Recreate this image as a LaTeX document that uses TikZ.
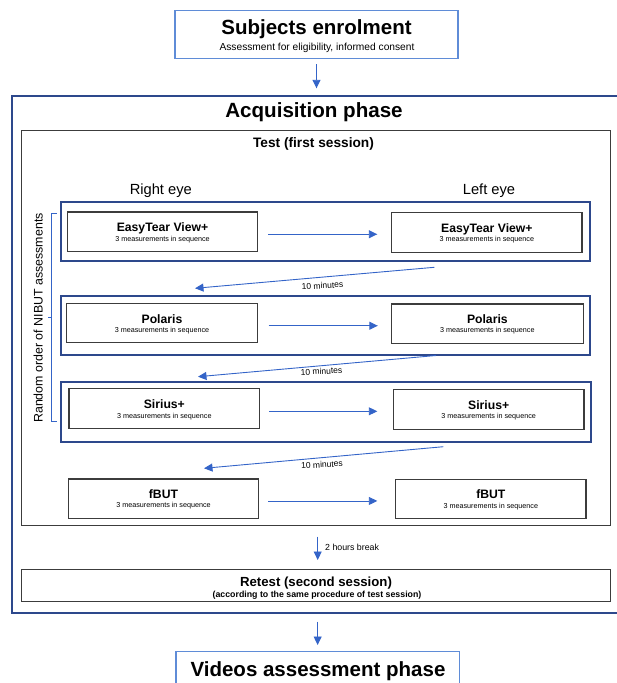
\documentclass[tikz,border=0pt]{standalone}
\usepackage{fontspec}
\setmainfont{Liberation Sans}
\usetikzlibrary{arrows.meta,calc}
\definecolor{lblue}{RGB}{95,140,215}
\definecolor{dblue}{RGB}{45,72,140}
\definecolor{ablue}{RGB}{52,100,200}
\definecolor{bgray}{RGB}{60,60,60}
\newcommand\fs[1]{\fontsize{#1}{#1}\selectfont}
\newcommand\rbox[6]{\node[#2, minimum width={(#5)-(#3)}, minimum height={(#6)-(#4)}] (#1) at ({((#3)+(#5))/2},{((#4)+(#6))/2}) {};}
\newcommand\meas[2]{%
  \node[txt,font=\bfseries\fs{12.2}] (#1t) at (#1.center) {#2};
  \node[txt,font=\fs{7.2}] (#1s) at ([yshift=-9.3pt]#1.center) {3 measurements in sequence};}
\tikzset{
  box/.style={draw, inner sep=0pt, outer sep=0pt},
  lbox/.style={box, draw=lblue, line width=1.4pt},
  obox/.style={box, draw=dblue, line width=2.2pt},
  grp/.style={box, draw=dblue, line width=2pt},
  ibox/.style={box, draw=bgray, line width=1.3pt},
  tbox/.style={box, draw=bgray, line width=1.2pt},
  arr/.style={draw=ablue, line width=0.9pt, -{Triangle[length=8.5pt,width=8pt]}},
  brk/.style={draw=ablue, line width=0.8pt},
  txt/.style={inner sep=0pt, outer sep=0pt, anchor=base},
}
\begin{document}
\begin{tikzpicture}[x=1pt,y=-1pt]
\useasboundingbox (0,0) rectangle (617,683);

% top box
\rbox{enrol}{lbox}{175}{10.7}{458}{58.7}
\node[txt,font=\bfseries\fs{20.5}] (enrolt) at (316.5,34.3) {Subjects enrolment};
\node[txt,font=\fs{10.2}] (enrols) at (317,50) {Assessment for eligibility, informed consent};

% acquisition phase
\rbox{acq}{obox}{11.7}{95.7}{625}{613.3}
\node[txt,font=\bfseries\fs{20.6}] (acqt) at (314,117.5) {Acquisition phase};

% test
\rbox{test}{tbox}{21.7}{130.7}{610.3}{525.7}
\node[txt,font=\bfseries\fs{13.7}] (testt) at (313.5,147) {Test (first session)};
\node[txt,font=\fs{14.7}] (reye) at (160.8,194) {Right eye};
\node[txt,font=\fs{14.7}] (leye) at (489,194) {Left eye};

% groups
\rbox{g1}{grp}{60.7}{201.7}{590}{261.2}
\rbox{g2}{grp}{60.7}{296.3}{590}{354.9}
\rbox{g3}{grp}{60.7}{381.7}{591}{441.5}

% inner boxes
\rbox{el}{ibox}{67.3}{212}{257.7}{251.5}
\rbox{er}{ibox}{391.7}{212.7}{582}{252.5}
\rbox{pl}{ibox}{66.5}{303.7}{257.5}{342.8}
\rbox{pr}{ibox}{391.3}{304}{583.4}{343.3}
\rbox{sl}{ibox}{69}{388.7}{259.7}{428.7}
\rbox{sr}{ibox}{393.3}{389.3}{584}{429.3}
\rbox{fl}{ibox}{68.3}{479}{258.7}{518.3}
\rbox{fr}{ibox}{395.7}{479.3}{586}{518.3}
\meas{el}{EasyTear View+}
\meas{er}{EasyTear View+}
\meas{pl}{Polaris}
\meas{pr}{Polaris}
\meas{sl}{Sirius+}
\meas{sr}{Sirius+}
\meas{fl}{fBUT}
\meas{fr}{fBUT}

% horizontal arrows
\draw[arr] ([xshift=10.5pt,yshift=-2.5pt]el.east) -- ([xshift=-14.4pt,yshift=-2.5pt]el.east -| er.west);
\draw[arr] ([xshift=11pt,yshift=-2.5pt]pl.east) -- ([xshift=-13.5pt,yshift=-2.5pt]pl.east -| pr.west);
\draw[arr] ([xshift=9.5pt,yshift=-2.6pt]sl.east) -- ([xshift=-16pt,yshift=-2.6pt]sl.east -| sr.west);
\draw[arr] ([xshift=9.6pt,yshift=-2.3pt]fl.east) -- ([xshift=-18.4pt,yshift=-2.3pt]fl.east -| fr.west);

% 10 minutes arrows
\coordinate (a1s) at (434.3,267.3);
\coordinate (a1e) at (195,288.3);
\coordinate (a2s) at (436,355.5);
\coordinate (a2e) at (198,376.7);
\coordinate (a3s) at (443.3,446.7);
\coordinate (a3e) at (204,468.3);
\draw[arr] (a1s) -- (a1e);
\draw[arr] (a2s) -- (a2e);
\draw[arr] (a3s) -- (a3e);
\node[font=\fs{8.5},rotate=3,inner sep=0pt] (l1) at (322.5,285.5) {10 minutes};
\node[font=\fs{8.5},rotate=3,inner sep=0pt] (l2) at (321.5,371.3) {10 minutes};
\node[font=\fs{8.5},rotate=3,inner sep=0pt] (l3) at (322,464.5) {10 minutes};

% bracket
\coordinate (bt) at (56.7,213.3);
\coordinate (btl) at (51.7,213.3);
\coordinate (bbl) at (51.7,421.7);
\coordinate (bb) at (56.7,421.7);
\coordinate (bm) at (51.7,317.7);
\coordinate (bmt) at (47.5,317.7);
\draw[brk] (bt) -- (btl) -- (bbl) -- (bb);
\draw[brk] (bm) -- (bmt);
\node[txt,rotate=90,font=\fs{12.4}] (rnd) at (42.5,318) {Random order of NIBUT assessments};

% retest
\rbox{retest}{tbox}{21.7}{569.3}{610.3}{601.2}
\node[txt,font=\bfseries\fs{13.2}] (retestt) at (316,586.7) {Retest (second session)};
\node[txt,font=\bfseries\fs{8.8}] (retests) at (317,597.6) {(according to the same procedure of test session)};
\draw[arr] ([xshift=1.7pt,yshift=-11pt]test.south) -- ([xshift=1.7pt,yshift=9.3pt]retest.north);
\node[font=\fs{8.8},anchor=west,inner sep=0pt] (brk2) at (325,547.3) {2 hours break};

% videos
\rbox{videos}{lbox}{176}{651.7}{459.3}{700}
\node[txt,font=\bfseries\fs{20.5}] (videost) at (318,676.7) {Videos assessment phase};

% vertical arrows
\draw[arr] ([yshift=-5.6pt]enrol.south) -- ([yshift=7.4pt]enrol.south |- acq.north);
\draw[arr] ([yshift=-8.4pt]videos.north |- acq.south) -- ([yshift=6.7pt]videos.north);
\end{tikzpicture}
\end{document}
